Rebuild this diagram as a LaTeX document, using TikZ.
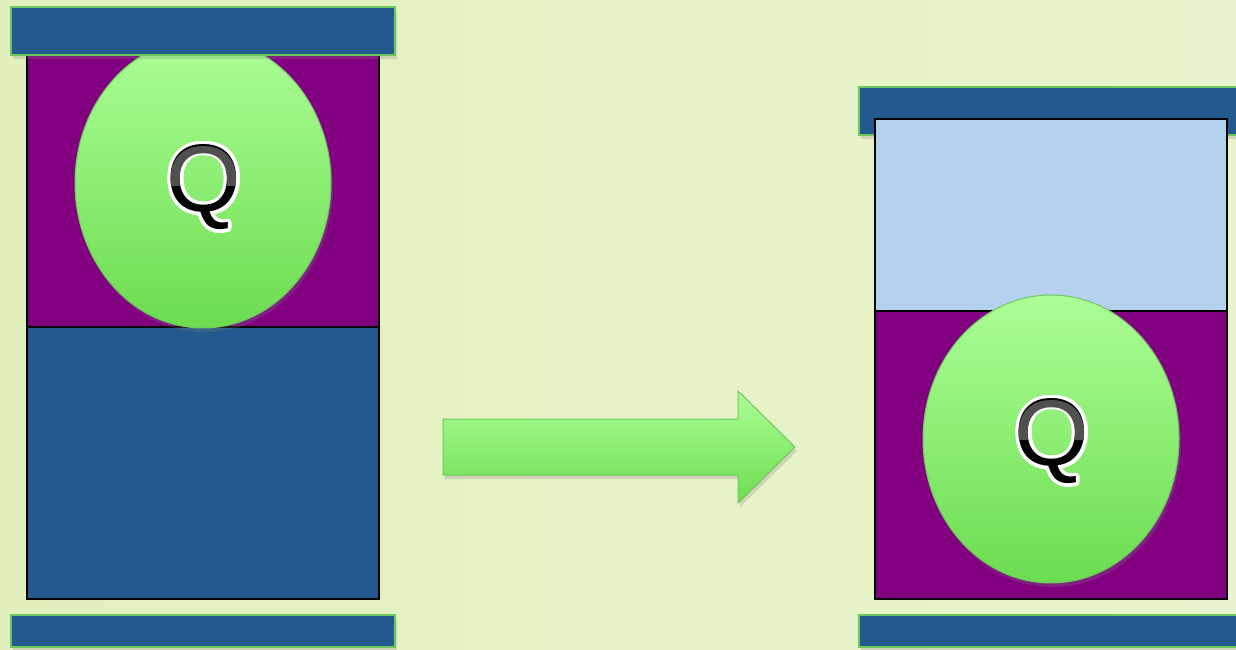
\documentclass[tikz,border=0pt]{standalone}
\usepackage{fontspec}
\setmainfont{Liberation Sans}
\usepackage[copies]{contour}
\contourlength{3.5pt}
\usetikzlibrary{shadows,shapes.geometric}
\definecolor{bgl}{RGB}{226,240,190}
\definecolor{bgr}{RGB}{232,244,205}
\definecolor{navy}{RGB}{36,89,143}
\definecolor{barline}{RGB}{108,200,92}
\definecolor{plum}{RGB}{128,0,128}
\definecolor{sky}{RGB}{180,209,238}
\definecolor{gtop}{RGB}{172,254,150}
\definecolor{gbot}{RGB}{108,220,80}
\definecolor{gline}{RGB}{112,200,96}
\definecolor{qgray}{RGB}{80,80,80}
\begin{document}
\begin{tikzpicture}[x=1pt,y=-1pt,
  bar/.style={rectangle, draw=barline, line width=1.5pt, fill=navy, inner sep=0pt,
    drop shadow={opacity=0.25, shadow xshift=2pt, shadow yshift=-4pt}},
  panel/.style={rectangle, draw=black, line width=1.5pt, inner sep=0pt, minimum width=352pt},
  ball/.style={ellipse, draw=gline, line width=1pt, top color=gtop, bottom color=gbot, inner sep=0pt,
    minimum width=256pt, drop shadow={opacity=0.25, shadow xshift=2pt, shadow yshift=-4pt}},
  qtext/.style={inner sep=0pt, font=\fontsize{96}{96}\selectfont}
]
\useasboundingbox (0,0) rectangle (1236,650);
\clip (0,0) rectangle (1236,650);
\shade[left color=bgl, right color=bgr] (0,0) rectangle (1236,650);

% left column
\node[panel, fill=plum, minimum height=272pt] (lupper) at (203,191) {};
\node[panel, fill=navy, minimum height=272pt] (llower) at (203,463) {};
\node[ball, minimum height=290pt] (lball) at (203,183) {};
\node[bar, minimum width=384pt, minimum height=48pt] (ltop) at (203,31) {};
\node[bar, minimum width=384pt, minimum height=32pt] (lbot) at (203,631) {};
\node[qtext] (lq) at (204,189) {\contour{white}{Q}};
\begin{scope}
  \clip (150,140) rectangle (260,185);
  \node[qtext, text=qgray] at (lq.center) {Q};
\end{scope}

% arrow
\path[top color=gtop, bottom color=gbot, draw=gline, line width=1pt,
  drop shadow={opacity=0.25, shadow xshift=2pt, shadow yshift=-4pt}]
  (443,419) coordinate (a1) -- (738,419) -- (738,391) -- (795,447) coordinate (atip)
  -- (738,503) -- (738,475) -- (443,475) -- cycle;

% right column
\node[bar, minimum width=401pt, minimum height=48pt] (rtop) at (1059.5,111) {};
\node[panel, fill=sky, minimum height=192pt] (rupper) at (1051,215) {};
\node[panel, fill=plum, minimum height=288pt] (rlower) at (1051,455) {};
\node[ball, minimum height=288pt] (rball) at (1051,439) {};
\node[bar, minimum width=401pt, minimum height=32pt] (rbot) at (1059.5,631) {};
\node[qtext] (rq) at (1052,443) {\contour{white}{Q}};
\begin{scope}
  \clip (1000,395) rectangle (1110,439);
  \node[qtext, text=qgray] at (rq.center) {Q};
\end{scope}
\end{tikzpicture}
\end{document}
